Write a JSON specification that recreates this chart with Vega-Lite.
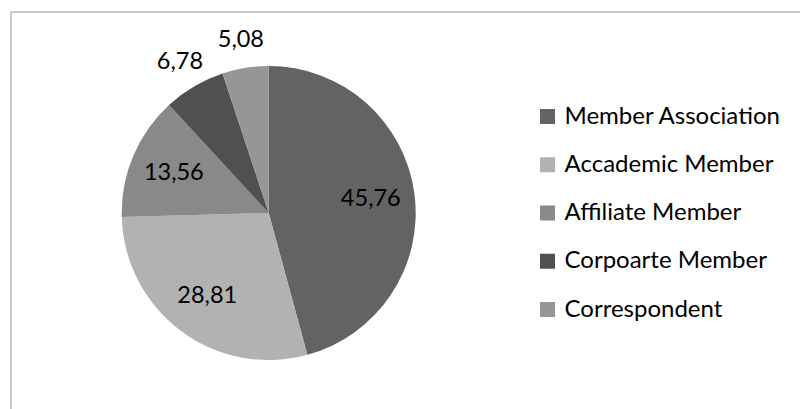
{
  "$schema": "https://vega.github.io/schema/vega-lite/v6.json",
  "width": 800,
  "height": 409,
  "autosize": {"type": "fit", "contains": "padding"},
  "padding": {"left": 10.5, "top": 11.5, "right": -1, "bottom": -1},
  "background": "white",
  "config": {
    "view": {"stroke": "#969696", "strokeWidth": 1},
    "font": "Lato",
    "locale": {"number": {"decimal": ",", "thousands": ".", "grouping": [3], "currency": ["", " €"]}}
  },
  "data": {
    "values": [
      {"i": 1, "category": "Member Association", "value": 45.76},
      {"i": 2, "category": "Accademic Member", "value": 28.81},
      {"i": 3, "category": "Affiliate Member", "value": 13.56},
      {"i": 4, "category": "Corpoarte Member", "value": 6.78},
      {"i": 5, "category": "Correspondent", "value": 5.08}
    ]
  },
  "encoding": {
    "theta": {"field": "value", "type": "quantitative", "stack": true},
    "order": {"field": "i", "type": "quantitative"},
    "x": {"value": 258.2},
    "y": {"value": 201.5}
  },
  "layer": [
    {
      "mark": {"type": "arc", "outerRadius": 147},
      "encoding": {
        "color": {
          "field": "category",
          "type": "nominal",
          "scale": {
            "domain": ["Member Association", "Accademic Member", "Affiliate Member", "Corpoarte Member", "Correspondent"],
            "range": ["#636363", "#b2b2b2", "#898989", "#505050", "#969696"]
          },
          "legend": {
            "title": null,
            "orient": "none",
            "legendX": 525,
            "legendY": 93,
            "symbolType": "square",
            "symbolSize": 225,
            "symbolStrokeWidth": 0,
            "labelFontSize": 24,
            "labelFont": "Lato",
            "labelColor": "#000000",
            "labelOffset": 5,
            "rowPadding": 24.25,
            "labelLimit": 400
          }
        }
      }
    },
    {
      "mark": {"type": "text", "radius": 103, "fontSize": 23.5, "font": "Lato", "color": "#000000"},
      "encoding": {
        "text": {"condition": {"test": "datum.value >= 10", "field": "value", "type": "quantitative", "format": ".2f"}, "value": ""}
      }
    },
    {
      "mark": {"type": "text", "radius": 175, "fontSize": 23.5, "font": "Lato", "color": "#000000"},
      "encoding": {
        "text": {"condition": {"test": "datum.value < 10", "field": "value", "type": "quantitative", "format": ".2f"}, "value": ""}
      }
    }
  ]
}
